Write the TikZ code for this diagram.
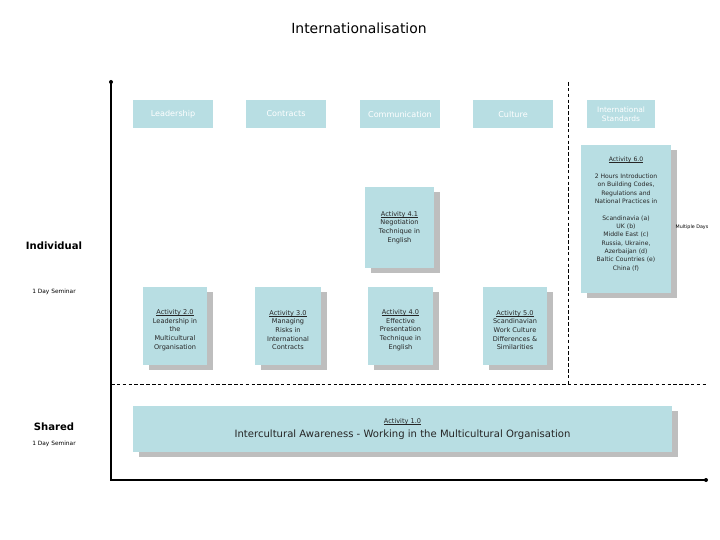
\documentclass[tikz,border=0pt]{standalone}
\usepackage{fontspec}
\setmainfont{DejaVu Sans}
\usetikzlibrary{shadows}
\definecolor{boxblue}{RGB}{184,222,227}
\definecolor{shadowgray}{RGB}{190,190,190}
\newcommand{\souligne}[1]{\setbox0\hbox{#1}\rlap{\rule[-0.8pt]{\wd0}{0.35pt}}\box0}
\tikzset{
    topbox/.style={fill=boxblue, text=white, font=\fontsize{6.9}{7.6}\selectfont,
        align=center, inner sep=0pt, minimum height=0.84cm},
    actbox/.style={fill=boxblue, text=black!85, font=\fontsize{5.6}{7.4}\selectfont,
        align=center, inner sep=0pt,
        drop shadow={shadow xshift=0.18cm, shadow yshift=-0.16cm, fill=shadowgray, opacity=1}},
    sidelabel/.style={font=\bfseries\fontsize{8.6}{9}\selectfont},
    tinylabel/.style={font=\fontsize{5}{6}\selectfont},
    axe/.style={line width=1.3pt},
    pointille/.style={dashed, dash pattern=on 3pt off 2pt, line width=0.5pt}
}
\begin{document}
\begin{tikzpicture}[x=0.03cm, y=-0.03cm]
        % Cadre de la page
        \useasboundingbox (0,0) rectangle (720,540);

        % Titre
        \node (titre) at (359,28) {\fontsize{11.9}{13}\selectfont Internationalisation};

        % Axes
        \coordinate (haut) at (111,82);
        \coordinate (origine) at (111,480);
        \coordinate (droite) at (706,480);
        \draw[axe] (haut) -- (origine) -- (droite);
        \fill (haut) circle (2);
        \fill (droite) circle (2);

        % Separations en pointilles
        \coordinate (sepg) at (111,384);
        \coordinate (sepd) at (708,384);
        \coordinate (verth) at (568,82);
        \coordinate (vertb) at (568,384);
        \draw[pointille] (sepg) -- (sepd);
        \draw[pointille] (verth) -- (vertb);

        % Themes
        \node[topbox, minimum width=2.4cm] (leadership) at (173,114) {Leadership};
        \node[topbox, minimum width=2.4cm] (contracts) at (286,114) {Contracts};
        \node[topbox, minimum width=2.4cm] (communication) at (400,114) {Communication};
        \node[topbox, minimum width=2.4cm] (culture) at (513,114) {Culture};
        \node[topbox, minimum width=2.04cm, font=\fontsize{6.4}{7.4}\selectfont] (standards) at (621,114) {International\\Standards};

        % Activites
        \node[actbox, minimum width=2.7cm, minimum height=4.44cm, font=\fontsize{5.2}{7.1}\selectfont] (act6) at (626,219)
            {\souligne{Activity 6.0}\\[7.1pt]2 Hours Introduction\\on Building Codes,\\Regulations and\\National Practices in\\[7.1pt]
             Scandinavia (a)\\UK (b)\\Middle East (c)\\Russia, Ukraine,\\Azerbaijan (d)\\Baltic Countries (e)\\China (f)\rule[-9pt]{0pt}{1pt}};
        \node[actbox, minimum width=2.07cm, minimum height=2.43cm] (act41) at (399.5,227.5)
            {\souligne{Activity 4.1}\\Negotiation\\Technique in\\English};
        \node[actbox, minimum width=1.92cm, minimum height=2.34cm] (act2) at (175,326)
            {\rule{0pt}{11pt}\souligne{Activity 2.0}\\Leadership in\\the\\Multicultural\\Organisation};
        \node[actbox, minimum width=1.98cm, minimum height=2.34cm] (act3) at (288,326)
            {\rule{0pt}{11pt}\souligne{Activity 3.0}\\Managing\\Risks in\\International\\Contracts};
        \node[actbox, minimum width=1.95cm, minimum height=2.34cm] (act4) at (400.5,326)
            {\rule{0pt}{11pt}\souligne{Activity 4.0}\\Effective\\Presentation\\Technique in\\English};
        \node[actbox, minimum width=1.92cm, minimum height=2.34cm] (act5) at (515,326)
            {\rule{0pt}{11pt}\souligne{Activity 5.0}\\Scandinavian\\Work Culture\\Differences \&\\Similarities};
        \node[actbox, minimum width=16.17cm, minimum height=1.38cm] (act1) at (402.5,429)
            {\souligne{Activity 1.0}\\[2.5pt]{\fontsize{8.6}{10}\selectfont Intercultural Awareness - Working in the Multicultural Organisation}};

        % Etiquettes
        \node[sidelabel] (individual) at (54,246) {Individual};
        \node[tinylabel] (seminar1) at (54,292) {1 Day Seminar};
        \node[sidelabel] (shared) at (54,427) {Shared};
        \node[tinylabel] (seminar2) at (54,444) {1 Day Seminar};
        \node[tinylabel, font=\fontsize{4.1}{5}\selectfont] (multiple) at (692,227) {Multiple Days};
    \end{tikzpicture}
\end{document}
